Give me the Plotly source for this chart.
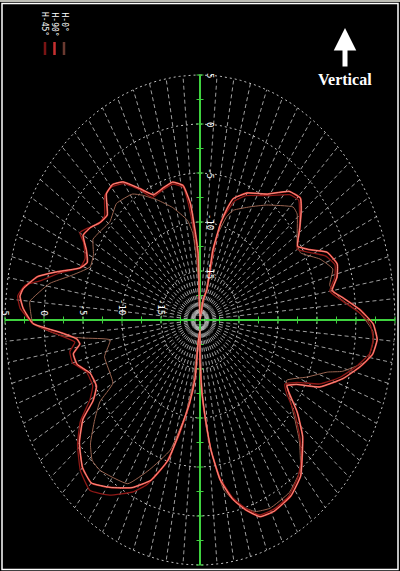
import math
import plotly.graph_objects as go

# ---------------- data (angle: degrees clockwise from vertical, gain: dB) ----------------
ANGLE_RED = [0,11,16,13,15,17,19,25,34,41,46,49,54,59,63,67,72,76,80,83,87,91,95,99,103,108,114,118,121,123,
             127,132,137,141,147,154,159,163,167,171,174,176,178,180,180,186,186,189,193,196,201,207,214,220,225,
             231,236,239,243,249,254,258,261,263,266,269,273,276,278,282,285,289,292,296,300,304,308,312,317,321,
             325,330,335,341,346,351,354,356,358,358,0]
GAIN_RED = [-20,-17.9,-16.8,-12.7,-9.8,-8.1,-6.9,-5.7,-4.5,-2.6,-2.1,-2.8,-4.2,-5.4,-4.2,-2.3,-1.5,-1.9,-2.8,-1.5,
            0.5,2.2,2.8,2.4,1.1,-0.7,-3.2,-6,-7,-6.4,-4.4,-2.3,-0.8,0.5,1.4,1.7,1.5,0.3,-1.2,-3.5,-6.7,-9.8,-12.5,
            -15.9,-19,-17.6,-14.1,-11.4,-8.2,-5.1,-2.5,-0.8,0.6,1.7,1.3,-0.1,-1.9,-4,-5.1,-4.9,-3.6,-3.4,-4.4,-4.1,
            -2,1.4,2.7,3.2,2.9,1.3,-1,-3.7,-4.4,-3.8,-2.7,-3.1,-3.8,-4,-2.4,-2.2,-2.8,-4.5,-5.9,-5.7,-5.5,-6.1,-8,
            -10.8,-13.2,-16.2,-20]

ANGLE_DARK = [0,11,16,14,15,18,20,25,34,42,46,49,55,60,64,68,72,76,80,84,88,91,95,99,103,108,113,117,121,124,
              128,133,137,142,148,154,159,163,167,171,174,176,178,180,180,186,186,189,193,197,202,206,213,219,225,
              231,236,240,244,250,255,259,262,265,269,273,276,279,281,285,289,293,298,300,303,307,311,316,320,325,
              330,334,340,346,351,353,355,357,358,0]
GAIN_DARK = [-20,-17.9,-16.3,-12.6,-9.7,-8.1,-7.1,-6,-4.7,-2.8,-2.4,-3.1,-4.5,-5.6,-4.3,-2.6,-1.8,-2.2,-3.1,-1.6,
             0.5,1.8,2.3,2,0.7,-1.1,-3.3,-6,-7.3,-6.6,-4.6,-2.5,-0.9,0.4,1.3,1.5,1.3,0.1,-1.4,-3.7,-6.7,-9.8,-12.5,
             -15.9,-19,-17.6,-14.1,-11.2,-7.8,-4.5,-1.9,-0.5,1.3,2.4,1.7,0.2,-1.5,-3.7,-4.7,-4.5,-3.1,-3,-3.8,-2,
             1.4,3.1,3.5,2.7,0.9,-1.4,-3.7,-4,-3.1,-2.2,-2.8,-3.7,-3.8,-2.4,-2.3,-3,-4.7,-6.1,-5.9,-5.7,-6.3,-8.2,
             -11,-13.4,-16.4,-20]

ANGLE_BROWN = [0,14,14,14,18,21,29,36,46,49,58,62,68,73,78,83,88,93,96,101,106,108,113,119,124,130,134,140,147,155,
               160,165,170,173,176,178,180,187,188,191,196,203,209,220,224,228,233,237,240,253,260,263,265,269,273,
               275,281,285,291,296,301,305,311,318,326,330,336,343,351,354,356,358,0]
GAIN_BROWN = [-20,-17.9,-14.7,-11.3,-8.9,-8,-6.8,-5.5,-3.4,-3.5,-5.3,-5.4,-3.4,-2.2,-3,-1.9,0.5,2.2,2.3,1.8,-1,-2.8,
              -5.1,-7.3,-6.2,-4.1,-2.3,0,1,1.2,0.8,-0.4,-2.4,-5.6,-9.3,-12.9,-18,-16.9,-13.3,-10.1,-6.2,-3.4,-0.9,0,
              -0.1,-1.1,-3.1,-4.7,-7.1,-7.2,-8.3,-4.9,-2,1.4,1.8,1.9,-0.4,-2.7,-4.9,-4.8,-4,-4.3,-4.7,-4,-4.5,-5.3,
              -6.6,-8,-9.7,-11.1,-13.9,-16.9,-20]

RING_DB = [5, 0, -5, -10, -15]
RING_LABELS = ["5", "0", "-5", "-10", "-15"]
INNER_RING_DB = [-16, -17, -18, -19]
SERIES_NAMES = ["H-45°", "H-90°", "H-0°"]
DB_MIN, DB_MAX = -20, 5
RADIAL_STEP = 5

# ---------------- helpers ----------------
W, H = 400, 571
CX, CY = 200, 320          # centre in pixels
RX, RY = 195, 245          # outer ring radii in pixels
SPAN = DB_MAX - DB_MIN


def to_xy(angles, gains):
    xs, ys = [], []
    for a, g in zip(angles, gains):
        r = max(g - DB_MIN, 0)
        t = math.radians(a)
        xs.append(r * math.sin(t))
        ys.append(r * math.cos(t))
    return xs, ys


def ring_xy(levels):
    gx, gy = [], []
    for d in levels:
        r = d - DB_MIN
        for k in range(0, 361, 2):
            t = math.radians(k)
            gx.append(r * math.sin(t)); gy.append(r * math.cos(t))
        gx.append(None); gy.append(None)
    return gx, gy


fig = go.Figure()

# rings
gx, gy = ring_xy(RING_DB)
fig.add_trace(go.Scatter(x=gx, y=gy, mode="lines", hoverinfo="skip", showlegend=False,
                         line=dict(color="rgba(225,225,225,0.85)", width=1, dash="2px,3px")))
gx, gy = ring_xy(INNER_RING_DB)
fig.add_trace(go.Scatter(x=gx, y=gy, mode="lines", hoverinfo="skip", showlegend=False,
                         line=dict(color="rgba(200,200,200,0.35)", width=1, dash="1px,3px")))
# radials
rx, ry = [], []
r0 = 0.7
for k in range(0, 360, RADIAL_STEP):
    t = math.radians(k)
    rx += [r0 * math.sin(t), SPAN * math.sin(t), None]; ry += [r0 * math.cos(t), SPAN * math.cos(t), None]
fig.add_trace(go.Scatter(x=rx, y=ry, mode="lines", hoverinfo="skip", showlegend=False,
                         line=dict(color="rgba(225,225,225,0.7)", width=1, dash="4px,3px")))

# green axes
fig.add_trace(go.Scatter(x=[-SPAN, SPAN, None, 0, 0], y=[0, 0, None, -SPAN, SPAN], mode="lines",
                         hoverinfo="skip", showlegend=False, line=dict(color="#3fd23f", width=2)))
tick_vals = [i * 2.5 for i in range(-10, 11)]
fig.add_trace(go.Scatter(x=tick_vals, y=[0] * len(tick_vals), mode="markers", hoverinfo="skip", showlegend=False,
                         marker=dict(symbol="line-ns", size=5, line=dict(color="#3fd23f", width=1))))
fig.add_trace(go.Scatter(x=[0] * len(tick_vals), y=tick_vals, mode="markers", hoverinfo="skip", showlegend=False,
                         marker=dict(symbol="line-ew", size=5, line=dict(color="#3fd23f", width=1))))

# pattern traces
for (ang, gain, col, wid) in [(ANGLE_BROWN, GAIN_BROWN, "#9a6450", 1.0),
                              (ANGLE_DARK, GAIN_DARK, "#8e1816", 1.3),
                              (ANGLE_RED, GAIN_RED, "#e0302a", 1.8),
                              (ANGLE_RED, GAIN_RED, "#f6c0b0", 0.7)]:
    x, y = to_xy(ang, gain)
    fig.add_trace(go.Scatter(x=x, y=y, mode="lines", hoverinfo="skip", showlegend=False,
                             line=dict(color=col, width=wid, shape="spline", smoothing=0.4)))

# axis ranges so that the plot area maps centre/outer ring onto the right pixels
sx = SPAN / RX
sy = SPAN / RY
xr = [-CX * sx, (W - CX) * sx]
yr = [-(H - CY) * sy, CY * sy]

ann = []
lab_font = dict(family="DejaVu Sans Mono", size=9, color="white")
for d, t in zip(RING_DB, RING_LABELS):
    r = d - DB_MIN
    ann.append(dict(x=-r, y=0, xref="x", yref="y", text=t, textangle=90, showarrow=False,
                    xanchor="center", yanchor="bottom", yshift=3, font=lab_font))
    ann.append(dict(x=0, y=r, xref="x", yref="y", text=t, textangle=90, showarrow=False,
                    xanchor="left", yanchor="middle", xshift=3, font=lab_font))

# legend (rotated)
leg_cols = ["#7a1414", "#c83030", "#6a3a30"]
shapes = []
for i, (name, c) in enumerate(zip(SERIES_NAMES, leg_cols)):
    xp = 45 + i * 9.5
    ann.append(dict(x=xp / W, y=1 - 10 / H, xref="paper", yref="paper", text=name, textangle=90,
                    showarrow=False, xanchor="center", yanchor="top",
                    font=dict(family="DejaVu Sans Mono", size=8, color="white")))
    shapes.append(dict(type="line", xref="paper", yref="paper", x0=xp / W, x1=xp / W,
                       y0=1 - 42 / H, y1=1 - 55 / H, line=dict(color=c, width=2.5)))

# small box at the centre
shapes.append(dict(type="rect", xref="x", yref="y", x0=-0.6, x1=0.6, y0=-0.5, y1=0.5,
                   line=dict(color="rgba(200,200,200,0.6)", width=1), fillcolor="rgba(0,0,0,0)"))

# "Vertical" arrow + label
ann.append(dict(x=345 / W, y=1 - 28 / H, xref="paper", yref="paper", text="", showarrow=True,
                ax=0, ay=40, arrowhead=2, arrowsize=0.9, arrowwidth=5, arrowcolor="white"))
ann.append(dict(x=345 / W, y=1 - 79 / H, xref="paper", yref="paper", text="<b>Vertical</b>", showarrow=False,
                xanchor="center", yanchor="middle",
                font=dict(family="Liberation Serif", size=16, color="white")))

# frame
shapes.append(dict(type="rect", xref="paper", yref="paper", x0=2 / W, x1=1 - 2 / W, y0=1.5 / H, y1=1 - 3.5 / H,
                   line=dict(color="white", width=1.5), fillcolor="rgba(0,0,0,0)"))
shapes.append(dict(type="rect", xref="paper", yref="paper", x0=0, x1=1, y0=1 - 2 / H, y1=1,
                   line=dict(width=0), fillcolor="#bdbdb5"))

fig.update_layout(
    width=W, height=H, margin=dict(l=0, r=0, t=0, b=0),
    paper_bgcolor="black", plot_bgcolor="black",
    xaxis=dict(range=xr, visible=False, fixedrange=True),
    yaxis=dict(range=yr, visible=False, fixedrange=True),
    annotations=ann, shapes=shapes, showlegend=False,
)

fig.write_html("out.html", config={"displayModeBar": False},
               post_script="document.body.style.margin='0px';document.body.style.overflow='hidden';")
